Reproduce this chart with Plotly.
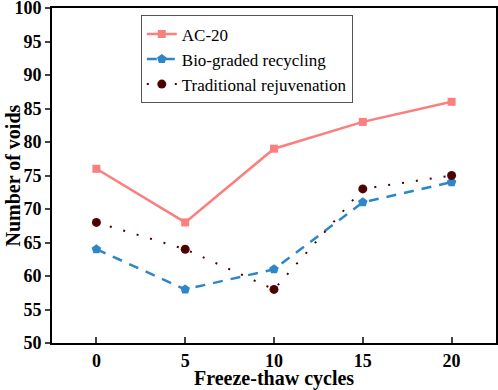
import plotly.graph_objects as go

cycles = [0, 5, 10, 15, 20]
ac20 = [76, 68, 79, 83, 86]
bio = [64, 58, 61, 71, 74]
trad = [68, 64, 58, 73, 75]
y_ticks = [50, 55, 60, 65, 70, 75, 80, 85, 90, 95, 100]
x_ticks = [0, 5, 10, 15, 20]

fig = go.Figure()
fig.add_trace(go.Scatter(x=cycles, y=ac20, name="AC-20", mode="lines+markers",
                         line=dict(color="#FA7F7F", width=2.5),
                         marker=dict(symbol="square", size=8, color="#FA7F7F")))
fig.add_trace(go.Scatter(x=cycles, y=bio, name="Bio-graded recycling", mode="lines+markers",
                         line=dict(color="#2E86C8", width=2.5, dash="10px,8px"),
                         marker=dict(symbol="pentagon", size=10, color="#2E86C8")))
fig.add_trace(go.Scatter(x=cycles, y=trad, name="Traditional rejuvenation", mode="lines+markers",
                         line=dict(color="#4A0000", width=2, dash="2px,12px"),
                         marker=dict(symbol="circle", size=9, color="#5A0505",
                                     gradient=dict(type="radial", color="#3A0000"),
                                     line=dict(width=0))))

font_family = "Liberation Serif"
fig.update_layout(
    width=498, height=390,
    margin=dict(l=52, r=2, t=8, b=47, autoexpand=False),
    plot_bgcolor="white", paper_bgcolor="white",
    font=dict(family=font_family, color="black"),
    showlegend=True,
    legend=dict(x=0.2, y=0.978, xanchor="left", yanchor="top",
                bordercolor="#555555", borderwidth=1, bgcolor="white",
                font=dict(family=font_family, size=17, color="black"),
                tracegroupgap=0, itemwidth=30),
    xaxis=dict(range=[-2.5, 22.5], tickvals=x_ticks, ticks="inside", ticklen=6, tickwidth=2,
               showline=True, linecolor="black", linewidth=2, mirror=True, showgrid=False,
               zeroline=False, automargin=False, ticklabeloverflow="allow",
               tickfont=dict(family=font_family, size=18, color="black", weight="bold")),
    yaxis=dict(range=[50, 100], tickvals=y_ticks, ticks="outside", ticklen=5, tickwidth=2,
               showline=True, linecolor="black", linewidth=2, mirror=True, showgrid=False,
               zeroline=False, automargin=False, ticklabeloverflow="allow",
               tickfont=dict(family=font_family, size=18, color="black", weight="bold")),
    annotations=[
        dict(text="Freeze-thaw cycles", xref="paper", yref="paper", x=0.5, y=-0.066,
             xanchor="center", yanchor="top", showarrow=False,
             font=dict(family=font_family, size=20, color="black", weight="bold")),
        dict(text="Number of voids", xref="paper", yref="paper", x=-0.09, y=0.5,
             xanchor="center", yanchor="middle", showarrow=False, textangle=-90,
             font=dict(family=font_family, size=20, color="black", weight="bold")),
    ],
)
fig.write_html("out.html", config={"displayModeBar": False})

with open("out.html", "r", encoding="utf-8") as f:
    html = f.read()
html = html.replace("<body>", '<body style="margin:0;padding:0">', 1)
html = html.replace("<head>", "<head><style>html,body{margin:0;padding:0;}</style>", 1)
with open("out.html", "w", encoding="utf-8") as f:
    f.write(html)
